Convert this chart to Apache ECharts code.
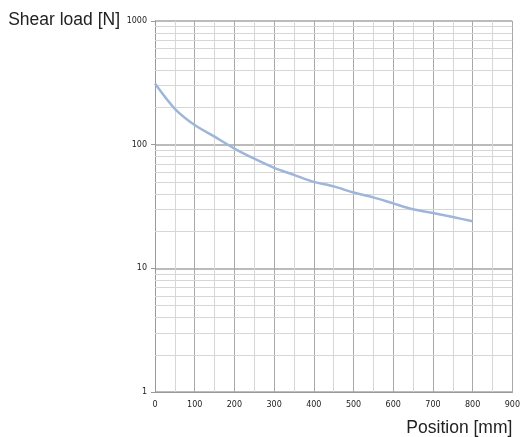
<!DOCTYPE html>
<html>
<head>
<meta charset="utf-8">
<script src="https://cdn.jsdelivr.net/npm/echarts@6/dist/echarts.min.js"></script>
<style>
  html, body { margin: 0; padding: 0; background: #fff; }
  #main { width: 523px; height: 437px; }
</style>
</head>
<body>
<div id="main"></div>
<script>
// shear load curve
const positions = [0, 50, 100, 150, 200, 250, 300, 350, 400, 450, 500, 550, 600, 650, 700, 750, 800];
const shearLoad = [312, 195, 144, 116, 93, 77, 65, 57, 50, 46, 41, 37.5, 33.5, 30, 28, 26, 24];

// log grid lines between decades
const minorLogLines = [2, 3, 4, 5, 6, 7, 8, 9, 20, 30, 40, 50, 60, 70, 80, 90, 200, 300, 400, 500, 600, 700, 800, 900];

const myChart = echarts.init(document.getElementById('main'));

const labelFont = { fontFamily: 'DejaVu Sans', fontSize: 8, color: '#222' };

const option = {
  animation: false,
  grid: { left: 155, right: 8, top: 21, bottom: 45 },
  xAxis: {
    type: 'value',
    min: 0,
    max: 900,
    interval: 100,
    name: 'Position [mm]',
    nameLocation: 'end',
    nameGap: 0,
    nameTextStyle: {
      fontFamily: 'Liberation Sans',
      fontSize: 17.5,
      color: '#222',
      align: 'right',
      verticalAlign: 'top',
      padding: [27, 0, 0, 0],
    },
    axisLine: { lineStyle: { color: '#999' } },
    axisTick: { show: false },
    axisLabel: { ...labelFont, margin: 9 },
    splitLine: { lineStyle: { color: '#a8a8a8', width: 1 } },
    minorTick: { show: false, splitNumber: 2 },
    minorSplitLine: { show: true, lineStyle: { color: '#d6d6d6', width: 1 } },
  },
  yAxis: {
    type: 'log',
    logBase: 10,
    min: 1,
    max: 1000,
    name: 'Shear load [N]',
    nameLocation: 'end',
    nameGap: 10,
    nameTextStyle: {
      fontFamily: 'Liberation Sans',
      fontSize: 17.5,
      color: '#222',
      align: 'right',
      verticalAlign: 'top',
      padding: [0, 35, 0, 0],
    },
    axisLine: { show: true, lineStyle: { color: '#999' } },
    axisTick: { show: true, length: 4, lineStyle: { color: '#999' } },
    axisLabel: { ...labelFont, margin: 8, formatter: (v) => String(v) },
    splitLine: { lineStyle: { color: '#bbbbbb', width: 2 } },
  },
  series: [
    {
      type: 'line',
      data: positions.map((p, i) => [p, shearLoad[i]]),
      smooth: 0.3,
      symbol: 'none',
      lineStyle: { color: '#9eb6da', width: 2.5 },
      z: 3,
      markLine: {
        silent: true,
        symbol: 'none',
        label: { show: false },
        lineStyle: { color: '#d6d6d6', width: 1, type: 'solid' },
        data: minorLogLines.map((v) => ({ yAxis: v })),
        z: 1,
      },
    },
  ],
};

myChart.setOption(option);
</script>
</body>
</html>
